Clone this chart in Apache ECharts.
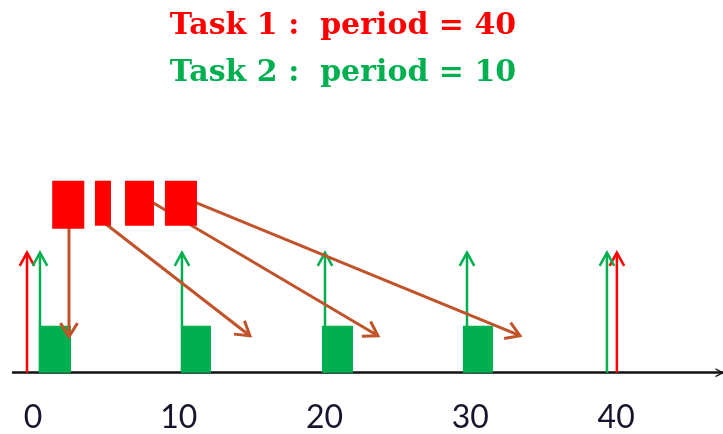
<!DOCTYPE html>
<html>
<head>
<meta charset="utf-8">
<script src="https://cdn.jsdelivr.net/npm/echarts@6/dist/echarts.min.js"></script>
<style>html,body{margin:0;padding:0;background:#fff}#chart{width:723px;height:434px}</style>
</head>
<body>
<div id="chart"></div>
<script>
// ---- data (time units on x, arbitrary height units on y) ----
const titleLines = ['Task 1 :  period = 40', 'Task 2 :  period = 10'];
const tickLabels = [0, 10, 20, 30, 40];

// release instants (arrows), drawn slightly apart where they coincide
const task1Release = [-0.41, 40.05];
const task2Release = [0.48, 10.22, 20.03, 29.77, 39.37];
const releaseHeight = 11.9;

// Task 2 executions (green boxes on the time line)
const task2Start = [0.41, 10.22, 19.82, 29.49];
const task2End = [2.61, 12.21, 21.95, 31.55];
const task2Height = 4.7;

// Task 1 pieces (red boxes above)
const task1Start = [1.32, 4.25, 6.31, 9.05];
const task1End = [3.52, 5.35, 8.30, 11.25];
const task1Top = [19.2, 19.2, 19.2, 19.2];
const task1Bottom = [14.4, 14.7, 14.7, 14.7];

// brown arrows from Task 1 pieces down to the time line
const moveFromT = [2.47, 4.73, 7.34, 10.22];
const moveFromV = [17.0, 15.17, 17.77, 17.58];
const moveToT = [2.47, 14.88, 23.66, 33.40];
const moveToV = [3.6, 3.7, 3.7, 3.7];

// ---- chart ----
const RED = '#FF0000', GREEN = '#00B050', BROWN = '#C0532A';

function chevron(tip, dir, len, ang) {
  const c = Math.cos(ang), s = Math.sin(ang);
  const a = [tip[0] - len * (dir[0] * c - dir[1] * s), tip[1] - len * (dir[0] * s + dir[1] * c)];
  const b = [tip[0] - len * (dir[0] * c + dir[1] * s), tip[1] - len * (-dir[0] * s + dir[1] * c)];
  return [a, tip, b];
}

function releaseSeries(name, times, color, z) {
  return {
    name: name, type: 'custom', z: z,
    data: times.map(t => [t, releaseHeight]),
    encode: { x: 0, y: 1 },
    renderItem: function (params, api) {
      const base = api.coord([api.value(0), 0]);
      const top = api.coord([api.value(0), api.value(1)]);
      return {
        type: 'group', children: [
          { type: 'line', shape: { x1: base[0], y1: base[1], x2: top[0], y2: top[1] }, style: { stroke: color, lineWidth: 2.5 } },
          { type: 'polyline', shape: { points: chevron([top[0], top[1] - 1], [0, -1], 15, Math.PI / 6.2) }, style: { stroke: color, lineWidth: 2.5, fill: null } }
        ]
      };
    }
  };
}

function boxSeries(name, rows, color, z) {
  return {
    name: name, type: 'custom', z: z,
    data: rows,
    encode: { x: [0, 1], y: [2, 3] },
    renderItem: function (params, api) {
      const p0 = api.coord([api.value(0), api.value(3)]);
      const p1 = api.coord([api.value(1), api.value(2)]);
      return { type: 'rect', shape: { x: p0[0], y: p0[1], width: p1[0] - p0[0], height: p1[1] - p0[1] }, style: { fill: color } };
    }
  };
}

const chart = echarts.init(document.getElementById('chart'), null, { renderer: 'canvas' });
chart.setOption({
  animation: false,
  backgroundColor: '#ffffff',
  graphic: [
    { type: 'text', x: 343, y: 26, style: { text: titleLines[0], fill: RED, font: 'bold 30px "DejaVu Serif"', align: 'center', verticalAlign: 'middle' } },
    { type: 'text', x: 343, y: 73, style: { text: titleLines[1], fill: GREEN, font: 'bold 30px "DejaVu Serif"', align: 'center', verticalAlign: 'middle' } }
  ],
  grid: { left: 13, right: 0, top: 172.7, bottom: 61.3, containLabel: false },
  xAxis: {
    type: 'value', min: -1.37, max: 47.33,
    axisLine: {
      show: true, onZero: false,
      symbol: ['none', 'path://M0,10 L5,0 L10,10 L8.4,10 L5,3.2 L1.6,10 Z'], symbolSize: [12, 9], symbolOffset: [0, -3],
      lineStyle: { color: '#111', width: 2.5 }
    },
    axisTick: { show: false },
    splitLine: { show: false },
    axisLabel: {
      customValues: tickLabels, margin: 29,
      color: '#15152e', fontFamily: 'Lato', fontSize: 32,
      formatter: v => String(v)
    }
  },
  yAxis: { type: 'value', min: 0, max: 20, show: false, splitLine: { show: false } },
  series: [
    releaseSeries('Task 1 release', task1Release, RED, 2),
    releaseSeries('Task 2 release', task2Release, GREEN, 2),
    boxSeries('Task 2 run', task2Start.map((s, i) => [s, task2End[i], 0, task2Height]), GREEN, 3),
    {
      name: 'Preemption', type: 'custom', z: 4,
      data: moveFromT.map((t, i) => [t, moveFromV[i], moveToT[i], moveToV[i]]),
      encode: { x: [0, 2], y: [1, 3] },
      renderItem: function (params, api) {
        const a = api.coord([api.value(0), api.value(1)]);
        const b = api.coord([api.value(2), api.value(3)]);
        const dx = b[0] - a[0], dy = b[1] - a[1], L = Math.hypot(dx, dy);
        const d = [dx / L, dy / L];
        return {
          type: 'group', children: [
            { type: 'line', shape: { x1: a[0], y1: a[1], x2: b[0], y2: b[1] }, style: { stroke: BROWN, lineWidth: 3 } },
            { type: 'polyline', shape: { points: chevron(b, d, 16, Math.PI / 5.6) }, style: { stroke: BROWN, lineWidth: 3, fill: null } }
          ]
        };
      }
    },
    boxSeries('Task 1 run', task1Start.map((s, i) => [s, task1End[i], task1Bottom[i], task1Top[i]]), RED, 5)
  ]
});
</script>
</body>
</html>
